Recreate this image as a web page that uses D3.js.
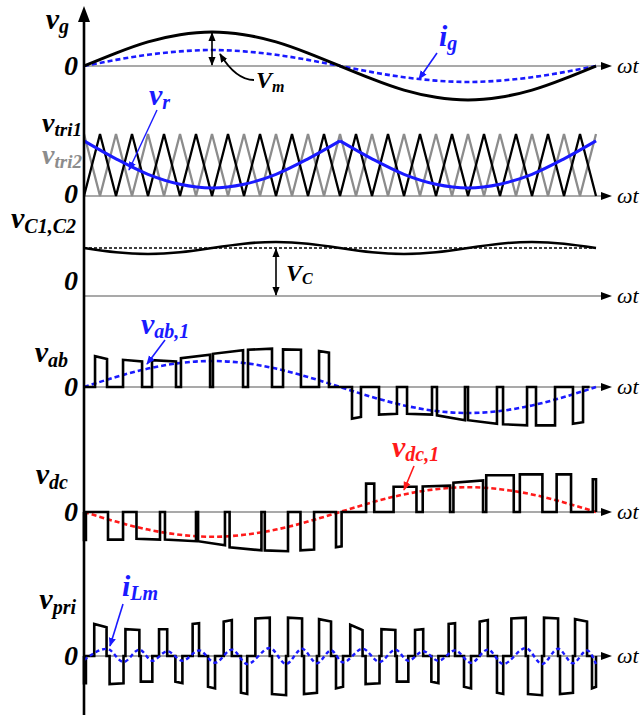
<!DOCTYPE html>
<html>
<head>
<meta charset="utf-8">
<script src="https://cdn.jsdelivr.net/npm/d3@7/dist/d3.min.js"></script>
<style>
  body { margin: 0; background: #fff; }
  svg { display: block; }
  text { font-family: "Liberation Serif", "Times New Roman", serif; font-style: italic; font-weight: bold; }
</style>
</head>
<body>
<svg width="640" height="715"></svg>
<script>
// one line cycle = 32 carrier half-periods (16 triangle periods)
const CYCLE = 32;

const BLACK = "#000";
const GRAY = "#8c8c8c";
const BLUE = "#1a1aff";
const RED = "#ff1a1a";

// smooth waveforms, sampled every 2 carrier half-periods
const tSmooth = [0, 2, 4, 6, 8, 10, 12, 14, 16, 18, 20, 22, 24, 26, 28, 30, 32];
const vg = [0, 0.38, 0.71, 0.92, 1, 0.92, 0.71, 0.38, 0, -0.38, -0.71, -0.92, -1, -0.92, -0.71, -0.38, 0];
const ig = [0, 0.18, 0.33, 0.43, 0.47, 0.43, 0.33, 0.18, 0, -0.18, -0.33, -0.43, -0.47, -0.43, -0.33, -0.18, 0];
const vr = [0.89, 0.6, 0.35, 0.19, 0.13, 0.19, 0.35, 0.6, 0.89, 0.6, 0.35, 0.19, 0.13, 0.19, 0.35, 0.6, 0.89];
const vc = [1, 0.91, 0.875, 0.91, 1, 1.09, 1.125, 1.09, 1, 0.91, 0.875, 0.91, 1, 1.09, 1.125, 1.09, 1];
const vab1 = [0, 0.25, 0.46, 0.6, 0.65, 0.6, 0.46, 0.25, 0, -0.25, -0.46, -0.6, -0.65, -0.6, -0.46, -0.25, 0];
const vdc1 = [0, -0.24, -0.44, -0.57, -0.62, -0.57, -0.44, -0.24, 0, 0.24, 0.44, 0.57, 0.62, 0.57, 0.44, 0.24, 0];

// triangle carriers, one vertex per half-period
const tTri = [0, 1, 2, 3, 4, 5, 6, 7, 8, 9, 10, 11, 12, 13, 14, 15, 16,
  17, 18, 19, 20, 21, 22, 23, 24, 25, 26, 27, 28, 29, 30, 31, 32];
const tri1 = [0, 1, 0, 1, 0, 1, 0, 1, 0, 1, 0, 1, 0, 1, 0, 1, 0,
  1, 0, 1, 0, 1, 0, 1, 0, 1, 0, 1, 0, 1, 0, 1, 0];
const tri2 = [1, 0, 1, 0, 1, 0, 1, 0, 1, 0, 1, 0, 1, 0, 1, 0, 1,
  0, 1, 0, 1, 0, 1, 0, 1, 0, 1, 0, 1, 0, 1, 0, 1];

// pulses: [t start, t end, level at start, level at end]
const vabPulses = [
  [0.69, 1.44, 0.77, 0.70], [2.44, 3.63, 0.68, 0.64], [4.25, 5.75, 0.67, 0.64],
  [6.06, 7.88, 0.72, 0.81], [8.06, 9.94, 0.83, 0.92], [10.25, 11.75, 0.93, 0.96],
  [12.44, 13.56, 0.94, 0.93], [14.69, 15.31, 0.90, 0.86],
  [16.75, 17.31, -0.79, -0.75], [18.44, 19.56, -0.69, -0.67], [20.19, 21.75, -0.67, -0.69],
  [22.06, 23.81, -0.71, -0.83], [24.0, 25.81, -0.83, -0.92], [26.19, 27.69, -0.93, -0.96],
  [28.25, 29.44, -0.96, -0.96], [30.56, 31.19, -0.92, -0.88]
];
const vdcPulses = [
  [0, 0.12, -0.70, -0.70], [1.5, 2.44, -0.69, -0.69], [3.28, 4.75, -0.67, -0.69],
  [5.06, 7.0, -0.69, -0.73], [7.13, 8.81, -0.73, -0.83], [9.1, 11.09, -0.88, -0.96],
  [11.3, 12.75, -0.96, -0.98], [13.53, 14.38, -0.96, -0.94], [15.75, 16.1, -0.88, -0.86],
  [17.63, 18.14, 0.71, 0.71], [19.35, 20.78, 0.63, 0.63], [21.17, 22.88, 0.64, 0.66],
  [23.09, 24.94, 0.73, 0.79], [25.14, 26.86, 0.92, 0.92], [27.24, 28.65, 0.94, 0.94],
  [29.54, 30.44, 0.94, 0.94], [31.8, 32.0, 0.82, 0.82]
];
const vpriPulses = [
  [0, 0.12, -0.68, -0.68], [0.64, 1.41, 0.80, 0.72], [1.60, 2.47, -0.70, -0.68],
  [2.59, 3.46, 0.67, 0.65], [3.55, 4.27, -0.64, -0.64], [4.69, 5.20, 0.67, 0.67],
  [5.71, 6.15, -0.64, -0.68], [6.79, 7.19, 0.80, 0.82], [7.75, 8.19, -0.77, -0.81],
  [8.73, 9.24, 0.86, 0.90], [9.81, 10.20, -0.92, -0.95], [10.71, 11.61, 0.94, 0.96],
  [11.75, 12.63, -0.95, -0.98], [12.75, 13.63, 0.96, 0.94], [13.75, 14.56, -0.95, -0.92],
  [14.69, 15.44, 0.92, 0.86], [15.75, 16.19, -0.81, -0.77],
  [16.64, 17.41, 0.78, 0.65], [17.60, 18.47, -0.70, -0.68], [18.59, 19.46, 0.67, 0.65],
  [19.55, 20.27, -0.64, -0.64], [20.69, 21.20, 0.65, 0.67], [21.71, 22.15, -0.64, -0.68],
  [22.79, 23.19, 0.80, 0.82], [23.75, 24.19, -0.77, -0.81], [24.73, 25.24, 0.86, 0.90],
  [25.81, 26.20, -0.92, -0.95], [26.71, 27.61, 0.94, 0.96], [27.75, 28.63, -0.95, -0.98],
  [28.75, 29.63, 0.96, 0.94], [29.75, 30.56, -0.95, -0.92], [30.69, 31.44, 0.92, 0.86],
  [31.75, 32.0, -0.81, -0.77]
];
// magnetizing current, turning points
const tLm = [0, 1.44, 2.47, 3.46, 4.27, 5.2, 6.15, 7.19, 8.19, 9.24, 10.2, 11.61, 12.63, 13.63, 14.56, 15.44, 16.19,
  17.41, 18.47, 19.46, 20.27, 21.2, 22.15, 23.19, 24.19, 25.24, 26.2, 27.61, 28.63, 29.63, 30.56, 31.44, 32];
const iLm = [-0.1, 0.18, -0.15, 0.16, -0.12, 0.12, -0.12, 0.14, -0.17, 0.16, -0.2, 0.2, -0.2, 0.18, -0.18, 0.14, -0.16,
  0.18, -0.15, 0.16, -0.12, 0.12, -0.12, 0.14, -0.17, 0.16, -0.2, 0.2, -0.2, 0.18, -0.18, 0.14, -0.2];

const svg = d3.select("svg");
const x = d3.scaleLinear().domain([0, CYCLE]).range([84, 596]);

const yG = d3.scaleLinear().domain([-1, 1]).range([100, 32]);
const yTri = d3.scaleLinear().domain([0, 1]).range([196, 134]);
const yC = d3.scaleLinear().domain([0, 1]).range([296, 248]);
const yAb = d3.scaleLinear().domain([-1, 1]).range([427, 347]);
const yDc = d3.scaleLinear().domain([-1, 1]).range([552, 472]);
const yPri = d3.scaleLinear().domain([-1, 1]).range([696, 616]);

// markers
const defs = svg.append("defs");
[["headK", BLACK], ["headB", BLUE], ["headR", RED]].forEach(([id, c]) => {
  defs.append("marker")
    .attr("id", id)
    .attr("viewBox", "0 0 10 10")
    .attr("refX", 9).attr("refY", 5)
    .attr("markerWidth", 9).attr("markerHeight", 9)
    .attr("markerUnits", "userSpaceOnUse")
    .attr("orient", "auto-start-reverse")
    .append("path").attr("d", "M0,1 L10,5 L0,9 Z").attr("fill", c);
});

function curve(ts, vs, y, crv) {
  return d3.line().x((d, i) => x(ts[i])).y(d => y(d)).curve(crv)(vs);
}

function pulsePath(pulses, y, tEnd) {
  const p = d3.path();
  p.moveTo(x(0), y(0));
  pulses.forEach(([a, b, h0, h1]) => {
    p.lineTo(x(a), y(0));
    p.lineTo(x(a), y(h0));
    p.lineTo(x(b), y(h1));
    p.lineTo(x(b), y(0));
  });
  p.lineTo(x(tEnd), y(0));
  return p.toString();
}

function hAxis(y0) {
  svg.append("line")
    .attr("x1", 84).attr("x2", 604).attr("y1", y0).attr("y2", y0)
    .attr("stroke", "#555").attr("stroke-width", 1.2);
  svg.append("path")
    .attr("d", `M612,${y0} L601,${y0 - 4} L601,${y0 + 4} Z`)
    .attr("fill", BLACK);
  svg.append("text")
    .attr("x", 617).attr("y", y0 + 7)
    .style("font-size", "22px").style("font-weight", "normal")
    .text("ωt");
}

function label(xp, yp, main, sub, color, anchor, size, subSize, subDy) {
  const t = svg.append("text")
    .attr("x", xp).attr("y", yp)
    .attr("fill", color)
    .attr("text-anchor", anchor)
    .style("font-size", size + "px");
  t.append("tspan").text(main);
  if (sub) t.append("tspan").attr("dy", subDy).style("font-size", subSize + "px").text(sub);
}

function zero(yp) {
  svg.append("text").attr("x", 78).attr("y", yp)
    .attr("text-anchor", "end").style("font-size", "28px").text("0");
}

function stroke(d, color, w, dash) {
  const p = svg.append("path").attr("d", d)
    .attr("fill", "none").attr("stroke", color).attr("stroke-width", w)
    .attr("stroke-linejoin", "miter");
  if (dash) p.attr("stroke-dasharray", dash);
  return p;
}

[66, 196, 296, 387, 512, 656].forEach(hAxis);

// --- panel 1: grid voltage and current
stroke(curve(tSmooth, ig, yG, d3.curveNatural), BLUE, 2.6, "5,3");
stroke(curve(tSmooth, vg, yG, d3.curveNatural), BLACK, 3);
stroke(`M${x(8)},${yG(1) + 1} L${x(8)},${yG(0) - 1}`, BLACK, 1.6)
  .attr("marker-start", "url(#headK)").attr("marker-end", "url(#headK)");
stroke("M254,80 Q236,80 220,54", BLACK, 1.8).attr("marker-end", "url(#headK)");
stroke("M437,53 L419,79", BLUE, 1.6).attr("marker-end", "url(#headB)");
label(69, 29, "v", "g", BLACK, "end", 30, 20, 4);
label(439, 46, "i", "g", BLUE, "start", 30, 20, 4);
label(256, 88, "V", "m", BLACK, "start", 24, 16, 4);
zero(75);

// --- panel 2: carriers and reference
stroke(curve(tTri, tri2, yTri, d3.curveLinear), GRAY, 2.3);
stroke(curve(tTri, tri1, yTri, d3.curveLinear), BLACK, 2.3);
stroke(curve(tSmooth.slice(0, 9), vr.slice(0, 9), yTri, d3.curveMonotoneX), BLUE, 3);
stroke(curve(tSmooth.slice(8), vr.slice(8), yTri, d3.curveMonotoneX), BLUE, 3);
stroke("M157,110 L129,170", BLUE, 1.4).attr("marker-end", "url(#headB)");
label(149, 105, "v", "r", BLUE, "start", 30, 20, 4);
label(82, 132, "v", "tri1", BLACK, "end", 28, 19, 4);
label(82, 164, "v", "tri2", GRAY, "end", 28, 19, 4);
zero(203);

// --- panel 3: capacitor voltages
stroke(`M${x(0)},${yC(1)} L${x(CYCLE)},${yC(1)}`, BLACK, 1.5, "3,2");
stroke(curve(tSmooth, vc, yC, d3.curveNatural), BLACK, 2.6);
stroke(`M${x(12)},${yC(1) + 1} L${x(12)},${yC(0) - 1}`, BLACK, 1.6)
  .attr("marker-start", "url(#headK)").attr("marker-end", "url(#headK)");
label(76, 228, "v", "C1,C2", BLACK, "end", 30, 20, 5);
label(286, 281, "V", "C", BLACK, "start", 24, 16, 3);
zero(290);

// --- panel 4: vab
stroke(curve(tSmooth, vab1, yAb, d3.curveNatural), BLUE, 2.6, "5,3");
stroke(pulsePath(vabPulses, yAb, 31.6), BLACK, 2.6);
stroke("M165,340 L147,364", BLUE, 1.6).attr("marker-end", "url(#headB)");
label(68, 362, "v", "ab", BLACK, "end", 30, 20, 5);
label(141, 334, "v", "ab,1", BLUE, "start", 30, 20, 4);
zero(396);

// --- panel 5: vdc
stroke(curve(tSmooth, vdc1, yDc, d3.curveNatural), RED, 2.6, "5,3");
stroke(pulsePath(vdcPulses, yDc, CYCLE), BLACK, 2.6);
stroke("M414,466 L404,490", RED, 1.6).attr("marker-end", "url(#headR)");
label(68, 484, "v", "dc", BLACK, "end", 30, 20, 5);
label(392, 457, "v", "dc,1", RED, "start", 30, 20, 4);
zero(521);

// --- panel 6: vpri and magnetizing current
stroke(pulsePath(vpriPulses, yPri, CYCLE), BLACK, 2.6);
stroke(curve(tLm, iLm, yPri, d3.curveMonotoneX), BLUE, 2.4, "4,3");
stroke("M123,604 L110,646", BLUE, 1.6).attr("marker-end", "url(#headB)");
label(76, 609, "v", "pri", BLACK, "end", 30, 20, 5);
label(122, 596, "i", "Lm", BLUE, "start", 30, 20, 4);
zero(665);

// vertical axis
svg.append("line")
  .attr("x1", 84).attr("x2", 84).attr("y1", 715).attr("y2", 18)
  .attr("stroke", BLACK).attr("stroke-width", 2.6);
svg.append("path").attr("d", "M84,6 L78,22 L90,22 Z").attr("fill", BLACK);
</script>
</body>
</html>
